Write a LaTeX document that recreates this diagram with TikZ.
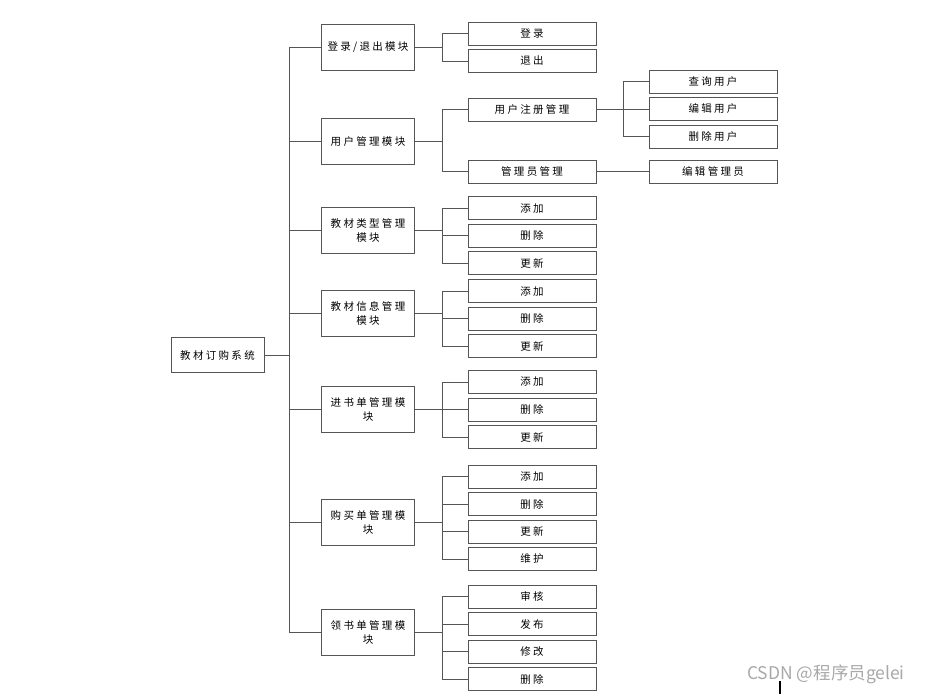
\documentclass[tikz,border=0pt]{standalone}
\usepackage{fontspec}
\usepackage{xcolor}
\usepackage{tikz}
\usetikzlibrary{positioning}
\newfontfamily\cjk[LetterSpace=22]{Noto Sans CJK SC}
\newfontfamily\wmark{Noto Sans CJK SC}
\definecolor{edgegray}{HTML}{555555}
\definecolor{wmgray}{HTML}{A8A8A8}

\begin{document}
\begin{tikzpicture}[x=1pt,y=-1pt,
 box/.style={draw=edgegray,line width=0.8pt,align=center,font=\cjk\fontsize{10.5}{14}\selectfont,minimum width=93pt,minimum height=46pt,inner sep=1pt,text width=86pt},
 leaf/.style={box,minimum width=128pt,minimum height=23pt,text width=120pt},
 link/.style={draw=edgegray,line width=0.8pt}
]
\useasboundingbox (0,0) rectangle (927,694);
% root and modules
\node[box,minimum height=35pt] (root) at (217.5,355) {教材订购系统};
\node[box] (login) at (368,47) {登录/退出模块};
\node[box] (user) at (368,141.5) {用户管理模块};
\node[box] (ttype) at (368,230.5) {教材类型管理\\模块};
\node[box] (tinfo) at (368,313) {教材信息管理\\模块};
\node[box] (inbook) at (368,409) {进书单管理模\\块};
\node[box] (buy) at (368,522) {购买单管理模\\块};
\node[box] (getbook) at (368,632.5) {领书单管理模\\块};
% functions
\node[leaf] (login1) at (532,33.5) {登录};
\node[leaf,below=3.7pt of login1] (login2) {退出};
\node[leaf] (user1) at (532,109.5) {用户注册管理};
\node[leaf] (user2) at (532,171.5) {管理员管理};
\node[leaf] (ttype1) at (532,208.3) {添加};
\node[leaf,below=3.7pt of ttype1] (ttype2) {删除};
\node[leaf,below=3.7pt of ttype2] (ttype3) {更新};
\node[leaf] (tinfo1) at (532,291.3) {添加};
\node[leaf,below=3.7pt of tinfo1] (tinfo2) {删除};
\node[leaf,below=3.7pt of tinfo2] (tinfo3) {更新};
\node[leaf] (inbook1) at (532,382) {添加};
\node[leaf,below=3.7pt of inbook1] (inbook2) {删除};
\node[leaf,below=3.7pt of inbook2] (inbook3) {更新};
\node[leaf] (buy1) at (532,476.5) {添加};
\node[leaf,below=3.7pt of buy1] (buy2) {删除};
\node[leaf,below=3.7pt of buy2] (buy3) {更新};
\node[leaf,below=3.7pt of buy3] (buy4) {维护};
\node[leaf] (getbook1) at (532,596.5) {审核};
\node[leaf,below=3.7pt of getbook1] (getbook2) {发布};
\node[leaf,below=3.7pt of getbook2] (getbook3) {修改};
\node[leaf,below=3.7pt of getbook3] (getbook4) {删除};
% user sub-functions
\node[leaf] (reg1) at (713,81.5) {查询用户};
\node[leaf,below=3.7pt of reg1] (reg2) {编辑用户};
\node[leaf,below=3.7pt of reg2] (reg3) {删除用户};
\node[leaf] (admin1) at (713,171.5) {编辑管理员};
% links
\draw[link] (root.east) -- ++(25,0) |- (login.west); \draw[link] (root.east) -- ++(25,0) |- (user.west); \draw[link] (root.east) -- ++(25,0) |- (ttype.west);
\draw[link] (root.east) -- ++(25,0) |- (tinfo.west); \draw[link] (root.east) -- ++(25,0) |- (inbook.west); \draw[link] (root.east) -- ++(25,0) |- (buy.west); \draw[link] (root.east) -- ++(25,0) |- (getbook.west);
\draw[link] (login.east) -- ++(27,0) |- (login1.west); \draw[link] (login.east) -- ++(27,0) |- (login2.west);
\draw[link] (user.east) -- ++(27,0) |- (user1.west); \draw[link] (user.east) -- ++(27,0) |- (user2.west);
\draw[link] (ttype.east) -- ++(27,0) |- (ttype1.west); \draw[link] (ttype.east) -- ++(27,0) |- (ttype2.west); \draw[link] (ttype.east) -- ++(27,0) |- (ttype3.west);
\draw[link] (tinfo.east) -- ++(27,0) |- (tinfo1.west); \draw[link] (tinfo.east) -- ++(27,0) |- (tinfo2.west); \draw[link] (tinfo.east) -- ++(27,0) |- (tinfo3.west);
\draw[link] (inbook.east) -- ++(27,0) |- (inbook1.west); \draw[link] (inbook.east) -- ++(27,0) |- (inbook2.west); \draw[link] (inbook.east) -- ++(27,0) |- (inbook3.west);
\draw[link] (buy.east) -- ++(27,0) |- (buy1.west); \draw[link] (buy.east) -- ++(27,0) |- (buy2.west); \draw[link] (buy.east) -- ++(27,0) |- (buy3.west); \draw[link] (buy.east) -- ++(27,0) |- (buy4.west);
\draw[link] (getbook.east) -- ++(27,0) |- (getbook1.west); \draw[link] (getbook.east) -- ++(27,0) |- (getbook2.west); \draw[link] (getbook.east) -- ++(27,0) |- (getbook3.west); \draw[link] (getbook.east) -- ++(27,0) |- (getbook4.west);
\draw[link] (user1.east) -- ++(26.5,0) |- (reg1.west); \draw[link] (user1.east) -- ++(26.5,0) |- (reg2.west); \draw[link] (user1.east) -- ++(26.5,0) |- (reg3.west);
\draw[link] (user2) -- (admin1);
% watermark
\node[font=\wmark\fontsize{17.5}{17.5}\selectfont,text=wmgray] (wm) at (826,674) {CSDN @程序员gelei};
\draw[line width=1.5pt] (780,681) -- (780,694);
\end{tikzpicture}
\end{document}
